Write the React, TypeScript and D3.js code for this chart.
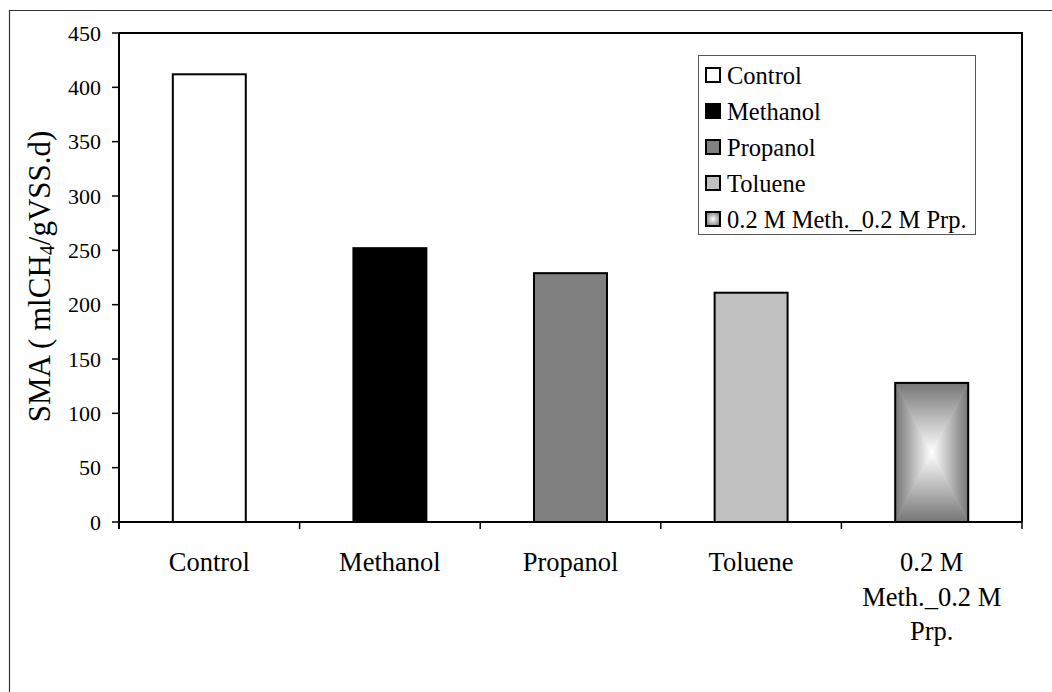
import React from "react";
import * as d3 from "d3";

const categories = ["Control", "Methanol", "Propanol", "Toluene", "0.2 M Meth._0.2 M Prp."];
const categoryLines = [["Control"], ["Methanol"], ["Propanol"], ["Toluene"], ["0.2 M", "Meth._0.2 M", "Prp."]];
const values = [412, 252, 229, 211, 128];
const yTicks = [0, 50, 100, 150, 200, 250, 300, 350, 400, 450];
const fills = ["#ffffff", "#000000", "#808080", "#c0c0c0", "gradient"];

const W = 1052;
const H = 692;
const left = 119;
const right = 1022;
const top = 33;
const bottom = 522;
const FONT = '"Liberation Serif", "Times New Roman", Tinos, serif';

export default function App() {
  const x = d3.scaleBand<string>().domain(categories).range([left, right]).paddingInner(0).paddingOuter(0);
  const y = d3.scaleLinear().domain([0, 450]).range([bottom, top]);
  const bw = x.bandwidth() * 0.404;

  const gradientBar = (i: number) => {
    const cx = (x(categories[i]) as number) + x.bandwidth() / 2;
    const x0 = cx - bw / 2;
    const x1 = cx + bw / 2;
    const y0 = y(values[i]);
    const y1 = y(0);
    const cy = (y0 + y1) / 2;
    const edge = "#767676";
    const grads = [
      { id: "gt", a: [cx, y0], pts: [[x0, y0], [x1, y0], [cx, cy]] },
      { id: "gb", a: [cx, y1], pts: [[x0, y1], [x1, y1], [cx, cy]] },
      { id: "gl", a: [x0, cy], pts: [[x0, y0], [x0, y1], [cx, cy]] },
      { id: "gr", a: [x1, cy], pts: [[x1, y0], [x1, y1], [cx, cy]] },
    ];
    return (
      <g key={"gb" + i}>
        <defs>
          {grads.map((g) => (
            <linearGradient key={g.id} id={g.id + i} gradientUnits="userSpaceOnUse" x1={g.a[0]} y1={g.a[1]} x2={cx} y2={cy}>
              <stop offset="0" stopColor={edge} />
              <stop offset="0.15" stopColor="#8a8a8a" />
              <stop offset="1" stopColor="#ffffff" />
            </linearGradient>
          ))}
        </defs>
        {grads.map((g) => (
          <polygon
            key={g.id}
            points={g.pts.map((p) => p.join(",")).join(" ")}
            fill={`url(#${g.id}${i})`}
            stroke={`url(#${g.id}${i})`}
            strokeWidth={0.6}
          />
        ))}
        <rect x={x0} y={y0} width={bw} height={y1 - y0} fill="none" stroke="#000" strokeWidth={2} />
      </g>
    );
  };

  const legendX = 698;
  const legendY = 55;
  const legendW = 277;
  const legendH = 179;
  const itemY = (i: number) => 75 + i * 36;

  return (
    <svg width={W} height={H} style={{ position: "absolute", left: 0, top: 0, background: "#fff", fontFamily: FONT }}>
      <defs>
        <radialGradient id="legGrad" cx="0.5" cy="0.5" r="0.6">
          <stop offset="0" stopColor="#ffffff" />
          <stop offset="1" stopColor="#777" />
        </radialGradient>
      </defs>
      <rect x={0} y={0} width={W} height={H} fill="#fff" />
      {/* outer chart border */}
      <path d={`M9.5,${H + 2} L9.5,10.5 L${W + 2},10.5`} fill="none" stroke="#333" strokeWidth={1.2} />

      {/* plot frame top/right */}
      <path d={`M${left},${top} L${right},${top} L${right},${bottom}`} fill="none" stroke="#000" strokeWidth={2} />

      {/* bars */}
      {categories.map((c, i) => {
        if (fills[i] === "gradient") return gradientBar(i);
        const cx = (x(c) as number) + x.bandwidth() / 2;
        return (
          <rect
            key={c}
            x={cx - bw / 2}
            y={y(values[i])}
            width={bw}
            height={y(0) - y(values[i])}
            fill={fills[i]}
            stroke="#000"
            strokeWidth={2}
          />
        );
      })}

      {/* y axis */}
      <line x1={left} x2={left} y1={top} y2={bottom + 7} stroke="#000" strokeWidth={2} />
      {yTicks.map((t) => (
        <g key={t}>
          <line x1={left - 7} x2={left} y1={y(t)} y2={y(t)} stroke="#000" strokeWidth={1.5} />
          <text x={left - 18} y={y(t)} dy="0.35em" textAnchor="end" fontSize={22} fill="#000" style={{ fontFamily: FONT }}>
            {t}
          </text>
        </g>
      ))}

      {/* x axis */}
      <line x1={left} x2={right} y1={bottom} y2={bottom} stroke="#000" strokeWidth={2} />
      {categories.map((c, i) => (
        <line key={"xt" + i} x1={x(c) as number} x2={x(c) as number} y1={bottom} y2={bottom + 7} stroke="#000" strokeWidth={1.5} />
      ))}
      <line x1={right} x2={right} y1={bottom} y2={bottom + 7} stroke="#000" strokeWidth={1.5} />
      {categories.map((c, i) => (
        <text key={"xl" + i} textAnchor="middle" fontSize={26.5} fill="#000" style={{ fontFamily: FONT }}>
          {categoryLines[i].map((ln, k) => (
            <tspan key={k} x={(x(c) as number) + x.bandwidth() / 2} y={571 + k * 34.5}>
              {ln}
            </tspan>
          ))}
        </text>
      ))}

      {/* y label */}
      <text
        transform={`translate(50,276.5) rotate(-90)`}
        textAnchor="middle"
        fontSize={31}
        fill="#000"
        style={{ fontFamily: FONT }}
      >
        SMA ( mlCH<tspan baselineShift="-22%" fontSize={20}>4</tspan>/gVSS.d)
      </text>

      {/* legend */}
      <rect x={legendX + 0.5} y={legendY + 0.5} width={legendW} height={legendH} fill="#fff" stroke="#555" strokeWidth={1} />
      {categories.map((c, i) => (
        <g key={"lg" + i}>
          <rect
            x={706}
            y={itemY(i) - 7}
            width={14}
            height={14}
            fill={fills[i] === "gradient" ? "url(#legGrad)" : fills[i]}
            stroke="#000"
            strokeWidth={2}
          />
          <text x={727} y={itemY(i)} dy="0.35em" fontSize={24.5} fill="#000" style={{ fontFamily: FONT }}>
            {c}
          </text>
        </g>
      ))}
    </svg>
  );
}
